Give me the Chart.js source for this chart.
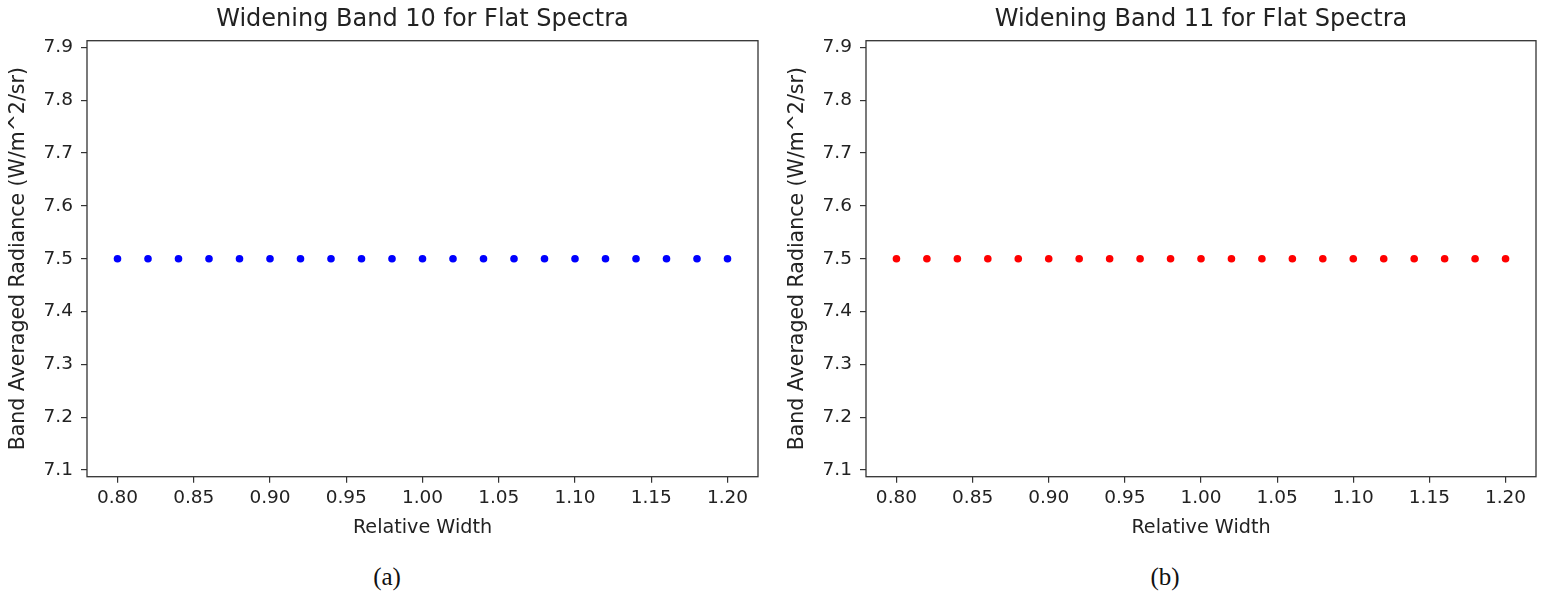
<!DOCTYPE html>
<html>
<head>
<meta charset="utf-8">
<script src="https://cdn.jsdelivr.net/npm/chart.js@4.4.0/dist/chart.umd.min.js"></script>
<style>
  body { margin: 0; background: #fff; width: 1545px; height: 595px; position: relative; overflow: hidden; }
  .panel { position: absolute; top: 0; height: 545px; }
  .caption { position: absolute; top: 563px; font-family: "Liberation Serif", "DejaVu Serif", serif; font-size: 25px; color: #111; transform: translateX(-50%); }
</style>
</head>
<body>
<div class="panel" style="left:0; width:770px;"><canvas id="band10"></canvas></div>
<div class="panel" style="left:779px; width:766px;"><canvas id="band11"></canvas></div>
<div class="caption" style="left:387px;">(a)</div>
<div class="caption" style="left:1165px;">(b)</div>
<script>
// relative width values (x) shared by both panels
var relWidth = [0.80, 0.82, 0.84, 0.86, 0.88, 0.90, 0.92, 0.94, 0.96, 0.98, 1.00,
                1.02, 1.04, 1.06, 1.08, 1.10, 1.12, 1.14, 1.16, 1.18, 1.20];
// band averaged radiance, flat spectra
var band10Radiance = [7.5, 7.5, 7.5, 7.5, 7.5, 7.5, 7.5, 7.5, 7.5, 7.5, 7.5,
                      7.5, 7.5, 7.5, 7.5, 7.5, 7.5, 7.5, 7.5, 7.5, 7.5];
var band11Radiance = [7.5, 7.5, 7.5, 7.5, 7.5, 7.5, 7.5, 7.5, 7.5, 7.5, 7.5,
                      7.5, 7.5, 7.5, 7.5, 7.5, 7.5, 7.5, 7.5, 7.5, 7.5];
var xTicks = [0.80, 0.85, 0.90, 0.95, 1.00, 1.05, 1.10, 1.15, 1.20];
var yTicks = [7.1, 7.2, 7.3, 7.4, 7.5, 7.6, 7.7, 7.8, 7.9];

var axisColor = "#333";
var textColor = "#222";
var fontFamily = "'DejaVu Sans', sans-serif";

//draw the box round the plot area like matplotlib does
var framePlugin = {
  id: 'frame',
  afterDraw: function(chart) {
    var a = chart.chartArea, ctx = chart.ctx;
    ctx.save();
    ctx.strokeStyle = axisColor;
    ctx.lineWidth = 1.3;
    ctx.strokeRect(a.left, a.top, a.right - a.left, a.bottom - a.top);
    ctx.restore();
  }
};

var makePanel = function(canvasId, title, values, colour, rightPad) {
  var ctx = document.getElementById(canvasId).getContext("2d");
  var pts = relWidth.map(function(x, i) { return {x: x, y: values[i]}; });
  return new Chart(ctx, {
    type: 'scatter',
    data: {
      datasets: [{
        data: pts,
        backgroundColor: colour,
        borderWidth: 0,
        pointRadius: 3.8,
        pointHoverRadius: 3.8,
        showLine: false
      }]
    },
    options: {
      responsive: true,
      maintainAspectRatio: false,
      animation: false,
      layout: { padding: { left: 0, right: rightPad, top: 0, bottom: 1.6 } },
      plugins: {
        legend: { display: false },
        tooltip: { enabled: false },
        title: {
          display: true,
          text: title,
          fullSize: false,
          color: textColor,
          font: { family: fontFamily, size: 24, weight: 'normal', lineHeight: 1.2 },
          padding: { top: 5.1, bottom: 6.8 }
        }
      },
      scales: {
        x: {
          type: 'linear',
          min: 0.78,
          max: 1.22,
          afterBuildTicks: function(scale) { scale.ticks = xTicks.map(function(v) { return {value: v}; }); },
          afterFit: function(scale) { scale.height = 66.7; },
          ticks: {
            color: textColor,
            padding: 4,
            maxRotation: 0,
            font: { family: fontFamily, size: 18.5 },
            callback: function(v) { return v.toFixed(2); }
          },
          grid: { drawOnChartArea: false, drawTicks: true, tickLength: 6, color: axisColor, lineWidth: 1.2 },
          border: { display: false },
          title: {
            display: true,
            text: 'Relative Width',
            color: textColor,
            font: { family: fontFamily, size: 19.2, lineHeight: 1.2 },
            padding: { top: 0, bottom: 4 }
          }
        },
        y: {
          type: 'linear',
          min: 7.0875,
          max: 7.9125,
          afterBuildTicks: function(scale) { scale.ticks = yTicks.map(function(v) { return {value: v}; }); },
          afterFit: function(scale) { scale.width = 87; },
          ticks: {
            color: textColor,
            padding: 8,
            font: { family: fontFamily, size: 18.5 },
            callback: function(v) { return v.toFixed(1); }
          },
          grid: { drawOnChartArea: false, drawTicks: true, tickLength: 6, color: axisColor, lineWidth: 1.2 },
          border: { display: false },
          title: {
            display: true,
            text: 'Band Averaged Radiance (W/m^2/sr)',
            color: textColor,
            font: { family: fontFamily, size: 20.5, lineHeight: 1.2 },
            padding: { top: 6.7, bottom: 0 }
          }
        }
      }
    },
    plugins: [framePlugin]
  });
};

makePanel("band10", "Widening Band 10 for Flat Spectra", band10Radiance, "#0000ff", 12);
makePanel("band11", "Widening Band 11 for Flat Spectra", band11Radiance, "#ff0000", 9);
</script>
</body>
</html>
